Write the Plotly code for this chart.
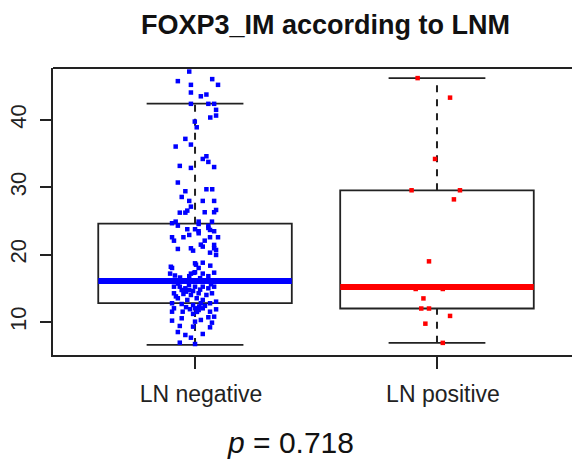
import plotly.graph_objects as go

# ---------------- data ----------------
groups = ["LN negative", "LN positive"]
group_pos = [1, 2]

# box statistics (lower whisker, Q1, median, Q3, upper whisker)
whisker_low = [6.6, 6.9]
q1_vals = [12.8, 12.0]
median_vals = [16.1, 15.2]
q3_vals = [24.6, 29.55]
whisker_high = [42.4, 46.2]

# LN negative: observed values and their horizontal jitter (category units)
neg_values = [
    47.17, 45.75, 46.05, 45.2, 45.2, 44.06, 43.5, 43.76, 42.38, 42.38, 42.38, 41.49,
    40.64, 40.35, 39.75, 38.9, 37.18, 36.04, 36.33, 34.6, 34.2,
    33.76, 33.0, 33.17, 32.87, 30.7, 29.7, 29.7, 29.41, 28.56, 27.97, 27.97, 27.97,
    27.12, 26.53, 26.23, 26.23, 26.29, 26.29, 26.63, 24.66, 24.9, 24.3, 24.9, 24.55,
    24.9, 24.26, 23.77, 23.77, 23.47, 23.96, 23.66, 23.47, 22.58, 22.92, 23.17, 22.58,
    22.07, 22.07, 22.58, 22.58, 21.44, 20.94, 20.94, 20.84, 21.19,
    20.59, 21.48, 20.29, 20.69, 19.95, 18.71, 18.8, 18.36, 18.02, 18.02, 17.38, 17.18,
    17.18, 17.32, 17.18, 18.2, 18.5, 17.3, 16.8, 16.8, 16.6, 16.5, 16.9, 16.2,
    15.24, 15.24, 14.75, 15.0, 14.75, 15.24, 15.24, 15.0, 15.24, 14.26, 14.16, 14.01,
    14.26, 14.01, 14.26, 13.52, 13.27, 13.52, 13.27, 12.78, 12.67, 12.52, 12.78, 12.78,
    13.02, 12.03, 12.03, 11.78, 12.03, 11.53, 11.53, 11.53, 11.88, 10.55, 10.3, 10.7,
    10.79, 10.2, 10.05, 9.9, 9.41, 9.31, 9.21, 8.51, 8.07, 8.22, 7.67, 6.93, 6.73,
    11.5, 11.2, 12.3, 11.9, 12.2, 12.4, 13.8, 14.5, 14.6, 14.8, 15.6, 15.7, 15.5,
]
neg_jitter = [
    -0.024, -0.071, 0.071, 0.095, -0.017, -0.017, 0.024, 0.047, -0.017, 0.055, 0.079, 0.087,
    0.087, 0.063, -0.001, 0.007, -0.040, -0.080, -0.017, 0.047, 0.032,
    0.055, 0.079, -0.063, -0.017, -0.071, 0.047, 0.071, -0.040, -0.055, -0.024, 0.032, 0.079,
    -0.017, -0.032, -0.040, -0.063, 0.040, 0.079, 0.087, -0.095, -0.080, -0.071, 0.015, 0.015,
    0.070, 0.055, -0.032, 0.000, 0.015, 0.055, 0.062, 0.079, -0.048, -0.024, 0.015, -0.095,
    -0.087, 0.040, 0.062, 0.095, 0.079, 0.079, -0.017, -0.071, 0.032,
    -0.008, 0.024, 0.062, 0.087, 0.087, 0.000, 0.032, 0.063, -0.095, 0.015, 0.000, -0.017,
    -0.103, 0.079, 0.032, -0.100, 0.004, -0.004, -0.024, 0.055, -0.062, 0.021, -0.083, 0.086,
    -0.087, -0.063, -0.055, -0.040, -0.024, 0.000, 0.032, 0.055, 0.079, -0.087, -0.048, -0.017,
    0.015, 0.047, 0.070, -0.071, -0.032, 0.007, 0.032, -0.095, -0.055, -0.008, 0.024, 0.062,
    0.087, -0.087, 0.000, 0.015, 0.032, -0.095, -0.051, 0.062, 0.087, -0.055, 0.024, 0.055,
    0.079, -0.095, 0.000, 0.070, -0.063, -0.008, 0.062, -0.071, -0.040, 0.032, -0.017, -0.063,
    0.000,
    0.008, -0.008, 0.017, -0.021, -0.037, 0.041, -0.079, -0.037, -0.008, 0.021, 0.066, -0.070,
    -0.025,
]

# LN positive
pos_values = [46.2, 43.3, 34.2, 29.55, 29.55, 28.2, 19.0, 14.9, 14.9, 13.5, 12.0, 12.0,
              10.9, 9.75, 6.9]
pos_jitter = [-0.080, 0.054, -0.008, -0.105, 0.095, 0.070, -0.033, -0.088, 0.024, -0.056,
              -0.065, -0.033, 0.054, -0.048, 0.024]

colors = ["#0000FF", "#FF0000"]
title_text = "FOXP3_IM according to LNM"
p_text = "<i>p</i> = 0.718"

# ---------------- figure ----------------
FONT = "Liberation Sans, Arial, sans-serif"
LINE = "#222222"
BOX_HALF = 0.4
CAP_HALF = 0.2

fig = go.Figure()

for i, g in enumerate(groups):
    xc = group_pos[i]
    # box body (whiskers drawn separately as dashed lines, R style)
    fig.add_trace(go.Box(
        x=[xc], q1=[q1_vals[i]], median=[median_vals[i]], q3=[q3_vals[i]],
        lowerfence=[q1_vals[i]], upperfence=[q3_vals[i]],
        width=2 * BOX_HALF, whiskerwidth=0, boxpoints=False,
        fillcolor="rgba(255,255,255,0)", line=dict(color=LINE, width=1.8),
        showlegend=False, hoverinfo="skip", name=g,
    ))
    # dashed whiskers
    for lo, hi in [(whisker_low[i], q1_vals[i]), (q3_vals[i], whisker_high[i])]:
        fig.add_trace(go.Scatter(
            x=[xc, xc], y=[lo, hi], mode="lines",
            line=dict(color=LINE, width=2, dash="7px,7px"),
            showlegend=False, hoverinfo="skip",
        ))
    # staples
    for v in [whisker_low[i], whisker_high[i]]:
        fig.add_trace(go.Scatter(
            x=[xc - CAP_HALF, xc + CAP_HALF], y=[v, v], mode="lines",
            line=dict(color=LINE, width=1.8),
            showlegend=False, hoverinfo="skip",
        ))

# jittered points
fig.add_trace(go.Scatter(
    x=[group_pos[0] + j for j in neg_jitter], y=neg_values, mode="markers",
    marker=dict(symbol="square", size=4.5, color=colors[0], line=dict(width=0)),
    showlegend=False, name=groups[0],
))
fig.add_trace(go.Scatter(
    x=[group_pos[1] + j for j in pos_jitter], y=pos_values, mode="markers",
    marker=dict(symbol="square", size=4.5, color=colors[1], line=dict(width=0)),
    showlegend=False, name=groups[1],
))

# thick coloured medians
for i in range(len(groups)):
    xc = group_pos[i]
    fig.add_trace(go.Scatter(
        x=[xc - BOX_HALF, xc + BOX_HALF], y=[median_vals[i], median_vals[i]],
        mode="lines", line=dict(color=colors[i], width=6),
        showlegend=False, hoverinfo="skip",
    ))

fig.update_layout(
    width=572, height=463,
    margin=dict(l=53, r=0, t=68, b=108, autoexpand=False),
    paper_bgcolor="white", plot_bgcolor="white",
    font=dict(family=FONT, color="#222222"),
    title=dict(text="<b>" + title_text + "</b>", x=325.5 / 572, xref="container",
               xanchor="center", y=1 - 25 / 463, yref="container", yanchor="middle",
               font=dict(size=27, family=FONT, color="#111111")),
    xaxis=dict(range=[0.413, 2.558], tickmode="array", tickvals=group_pos, ticktext=groups,
               ticks="outside", ticklen=12, tickwidth=1.8, tickcolor=LINE,
               showline=True, linecolor=LINE, linewidth=1.8, showgrid=False, zeroline=False,
               automargin=False,
               tickfont=dict(size=23, family=FONT, color="#222222"), ticklabelstandoff=6,
               ticklabelshift=6),
    yaxis=dict(range=[5.1, 47.7], tickmode="array", tickvals=[10, 20, 30, 40],
               ticks="outside", ticklen=11, tickwidth=1.8, tickcolor=LINE, tickangle=-90,
               showline=True, linecolor=LINE, linewidth=1.8, showgrid=False, zeroline=False,
               automargin=False,
               tickfont=dict(size=22, family=FONT, color="#222222"), ticklabelstandoff=5),
    shapes=[dict(type="line", xref="paper", yref="paper", x0=0, x1=1, y0=1, y1=1,
                 line=dict(color=LINE, width=1.8))],
    annotations=[dict(text=p_text, xref="paper", yref="paper",
                      x=(290.5 - 53) / 519, y=(355 - 442) / 287,
                      xanchor="center", yanchor="middle", showarrow=False,
                      font=dict(size=30, family=FONT, color="#111111"))],
    hovermode=False,
)

# remove the browser's default 8px page margin so the 572x463 figure fills the window
fig.write_html("out.html", config={"displayModeBar": False, "staticPlot": True},
               post_script="document.body.style.margin='0';document.body.style.overflow='hidden';")
